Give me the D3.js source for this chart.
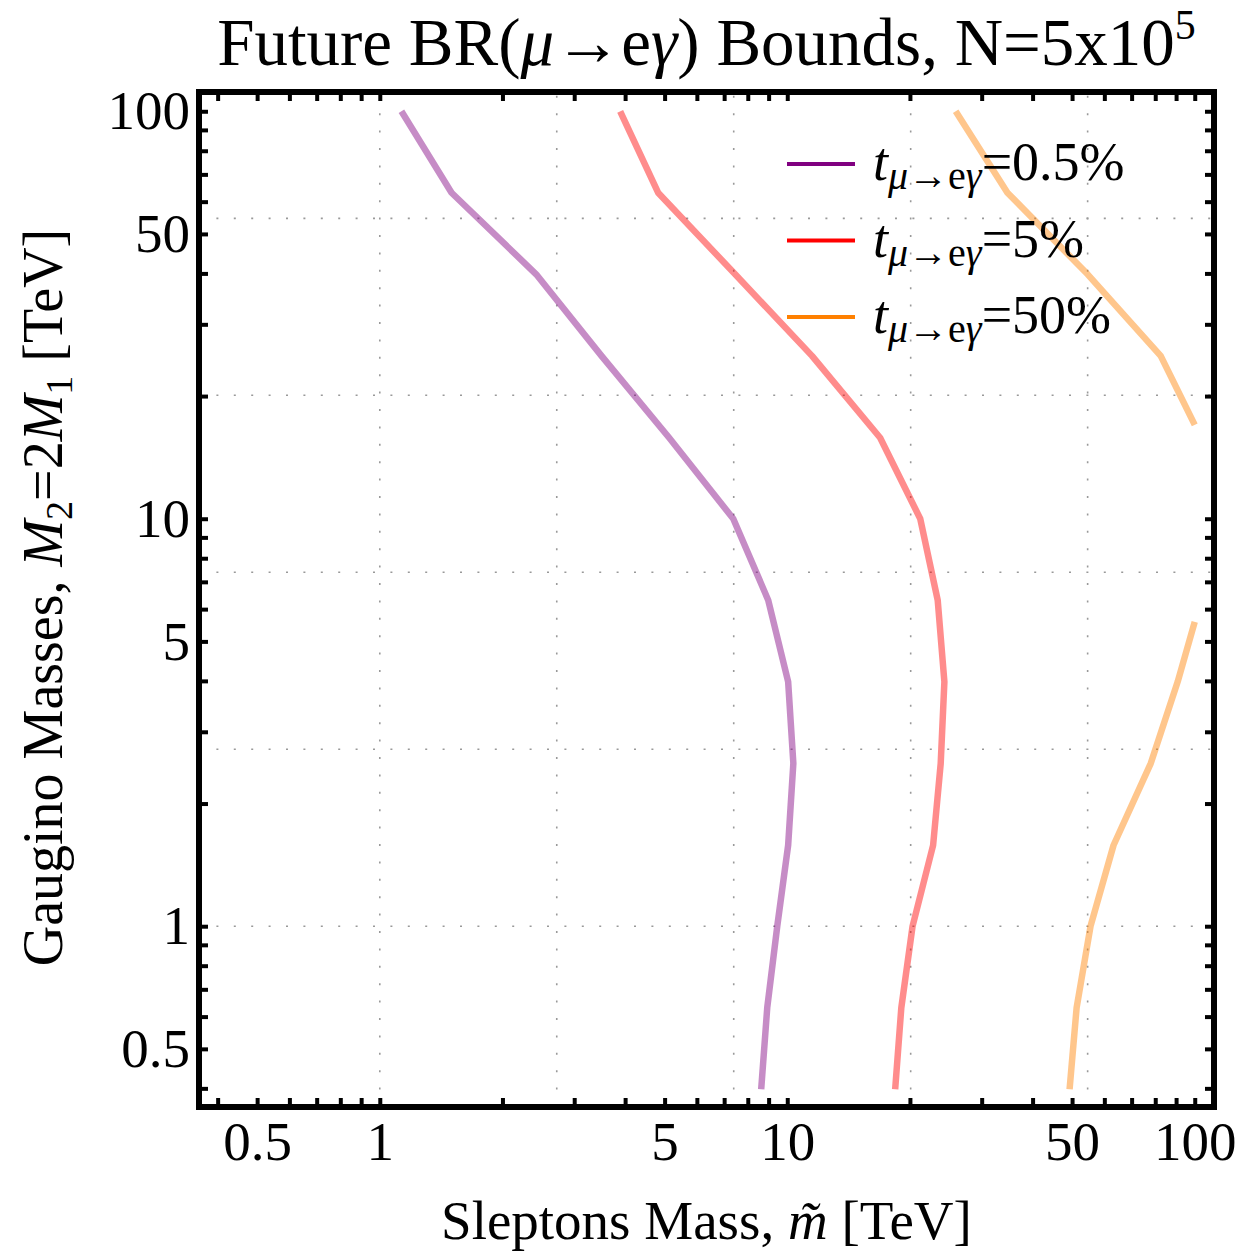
<!DOCTYPE html>
<html>
<head>
<meta charset="utf-8">
<script src="https://cdn.jsdelivr.net/npm/d3@7"></script>
<style>
  body { margin: 0; background: #fff; }
  text { font-family: "Liberation Serif", "Times New Roman", serif; fill: #000; }
</style>
</head>
<body>
<svg id="chart" width="1257" height="1253"></svg>
<script>
// gaugino mass grid (M2, TeV) and the slepton mass (TeV) of each bound on it
var gauginoMass = [100, 63.1, 39.8, 25.1, 15.8, 10, 6.31, 3.98, 2.51, 1.58, 1, 0.631, 0.398];
var slepton05 = [1.13, 1.50, 2.42, 3.5, 5.13, 7.37, 8.98, 10.05, 10.35, 10.05, 9.45, 8.93, 8.63];
var slepton5 = [3.89, 4.82, 7.45, 11.5, 16.9, 21.2, 23.4, 24.3, 23.8, 22.8, 20.3, 19.05, 18.4];
// the 50% contour leaves the plotted range, so it comes in two pieces
var gaugino50Upper = [100, 63.1, 39.8, 25.1, 17.0];
var slepton50Upper = [25.9, 34.7, 54.6, 82.5, 100];
var gaugino50Lower = [5.58, 3.98, 2.51, 1.58, 1, 0.631, 0.398];
var slepton50Lower = [100, 90.8, 78.0, 63.2, 55.5, 51.3, 49.3];

var tuning = ["0.5%", "5%", "50%"];
var colors = ["#800080", "#ff0000", "#ff8000"];
var xTickLabels = [0.5, 1, 5, 10, 50, 100];
var yTickLabels = [0.5, 1, 5, 10, 50, 100];

var svg = d3.select("#chart");
var pLeft = 199, pRight = 1214, pTop = 92, pBottom = 1107;

var x = d3.scaleLog().domain([0.36, 111.5]).range([pLeft, pRight]);
var y = d3.scaleLog().domain([0.36, 111.5]).range([pBottom, pTop]);

// minor ticks at every integer multiple of a decade
var tickVals = [];
[0.1, 1, 10].forEach(function(d) {
    for (var k = 1; k < 10; k++) {
        var v = +(d * k).toFixed(3);
        if (v >= 0.36) tickVals.push(v);
    }
});
tickVals.push(100);

// mathematica puts the grid at powers of e
var gridVals = [0, 1, 2, 3, 4].map(Math.exp);

var grid = svg.append("g")
    .attr("stroke", "#999")
    .attr("stroke-width", 1.6)
    .attr("stroke-dasharray", "2,15.4");
grid.selectAll(".gx").data(gridVals).enter().append("line")
    .attr("x1", function(d) { return x(d); })
    .attr("x2", function(d) { return x(d); })
    .attr("y1", pBottom).attr("y2", pTop);
grid.selectAll(".gy").data(gridVals).enter().append("line")
    .attr("y1", function(d) { return y(d); })
    .attr("y2", function(d) { return y(d); })
    .attr("x1", pLeft).attr("x2", pRight);

// curves
var curves = [
    { c: 0, m2: gauginoMass, ml: slepton05 },
    { c: 1, m2: gauginoMass, ml: slepton5 },
    { c: 2, m2: gaugino50Upper, ml: slepton50Upper },
    { c: 2, m2: gaugino50Lower, ml: slepton50Lower }
];

var line = d3.line()
    .x(function(d) { return x(d[0]); })
    .y(function(d) { return y(d[1]); });

svg.append("g").selectAll("path")
    .data(curves)
    .enter().append("path")
    .attr("d", function(d) { return line(d.ml.map(function(v, i) { return [v, d.m2[i]]; })); })
    .attr("fill", "none")
    .attr("stroke", function(d) { return colors[d.c]; })
    .attr("stroke-opacity", 0.45)
    .attr("stroke-width", 6.5)
    .attr("stroke-linejoin", "round");

// legend
var legend = svg.append("g");
tuning.forEach(function(t, i) {
    var ly = 164 + i * 76.5;
    legend.append("line")
        .attr("x1", 787).attr("x2", 855)
        .attr("y1", ly).attr("y2", ly)
        .attr("stroke", colors[i])
        .attr("stroke-width", 4);
    var tx = legend.append("text")
        .attr("x", 873).attr("y", ly + 16)
        .style("font-size", "54px");
    tx.append("tspan").style("font-style", "italic").text("t");
    var sub = tx.append("tspan").attr("dy", 9).style("font-size", "40px");
    sub.append("tspan").style("font-style", "italic").text("μ");
    sub.append("tspan").text("→e");
    sub.append("tspan").style("font-style", "italic").text("γ");
    tx.append("tspan").attr("dy", -9).text("=" + t);
});

// frame ticks, pointing inward on all four sides
function styleAxis(g) {
    g.select(".domain").remove();
    g.selectAll(".tick line").attr("stroke", "#000").attr("stroke-width", 4);
    g.selectAll(".tick text")
        .style("font-family", "'Liberation Serif', 'Times New Roman', serif")
        .style("font-size", "55px");
}
function fmt(labels) {
    return function(d) { return labels.indexOf(d) >= 0 ? d : ""; };
}

svg.append("g").attr("transform", "translate(0," + pBottom + ")")
    .call(d3.axisBottom(x).tickValues(tickVals).tickSize(-9).tickPadding(14).tickFormat(fmt(xTickLabels)))
    .call(styleAxis);
svg.append("g").attr("transform", "translate(0," + pTop + ")")
    .call(d3.axisTop(x).tickValues(tickVals).tickSize(-9).tickFormat(""))
    .call(styleAxis);
svg.append("g").attr("transform", "translate(" + pLeft + ",0)")
    .call(d3.axisLeft(y).tickValues(tickVals).tickSize(-9).tickPadding(9).tickFormat(fmt(yTickLabels)))
    .call(styleAxis);
svg.append("g").attr("transform", "translate(" + pRight + ",0)")
    .call(d3.axisRight(y).tickValues(tickVals).tickSize(-9).tickFormat(""))
    .call(styleAxis);

svg.append("rect")
    .attr("x", pLeft).attr("y", pTop)
    .attr("width", pRight - pLeft).attr("height", pBottom - pTop)
    .attr("fill", "none")
    .attr("stroke", "#000")
    .attr("stroke-width", 6);

// title
var title = svg.append("text")
    .attr("x", (pLeft + pRight) / 2).attr("y", 65)
    .attr("text-anchor", "middle")
    .style("font-size", "67px");
title.append("tspan").text("Future BR(");
title.append("tspan").style("font-style", "italic").text("μ");
title.append("tspan").text("→e");
title.append("tspan").style("font-style", "italic").text("γ");
title.append("tspan").text(") Bounds, N=5x10");
title.append("tspan").attr("dy", -26).style("font-size", "42px").text("5");

// axis labels
var xl = svg.append("text")
    .attr("x", (pLeft + pRight) / 2).attr("y", 1239)
    .attr("text-anchor", "middle")
    .style("font-size", "55px");
xl.append("tspan").text("Sleptons Mass, ");
xl.append("tspan").style("font-style", "italic").text("m\u0303");
xl.append("tspan").text(" [TeV]");

var yl = svg.append("text")
    .attr("transform", "translate(62," + ((970 + 225) / 2) + ") rotate(-90)")
    .attr("text-anchor", "middle")
    .style("font-size", "56px");
yl.append("tspan").text("Gaugino Masses, ");
yl.append("tspan").style("font-style", "italic").text("M");
yl.append("tspan").attr("dy", 10).style("font-size", "38px").text("2");
yl.append("tspan").attr("dy", -10).text("=2");
yl.append("tspan").style("font-style", "italic").text("M");
yl.append("tspan").attr("dy", 10).style("font-size", "38px").text("1");
yl.append("tspan").attr("dy", -10).text(" [TeV]");
</script>
</body>
</html>
